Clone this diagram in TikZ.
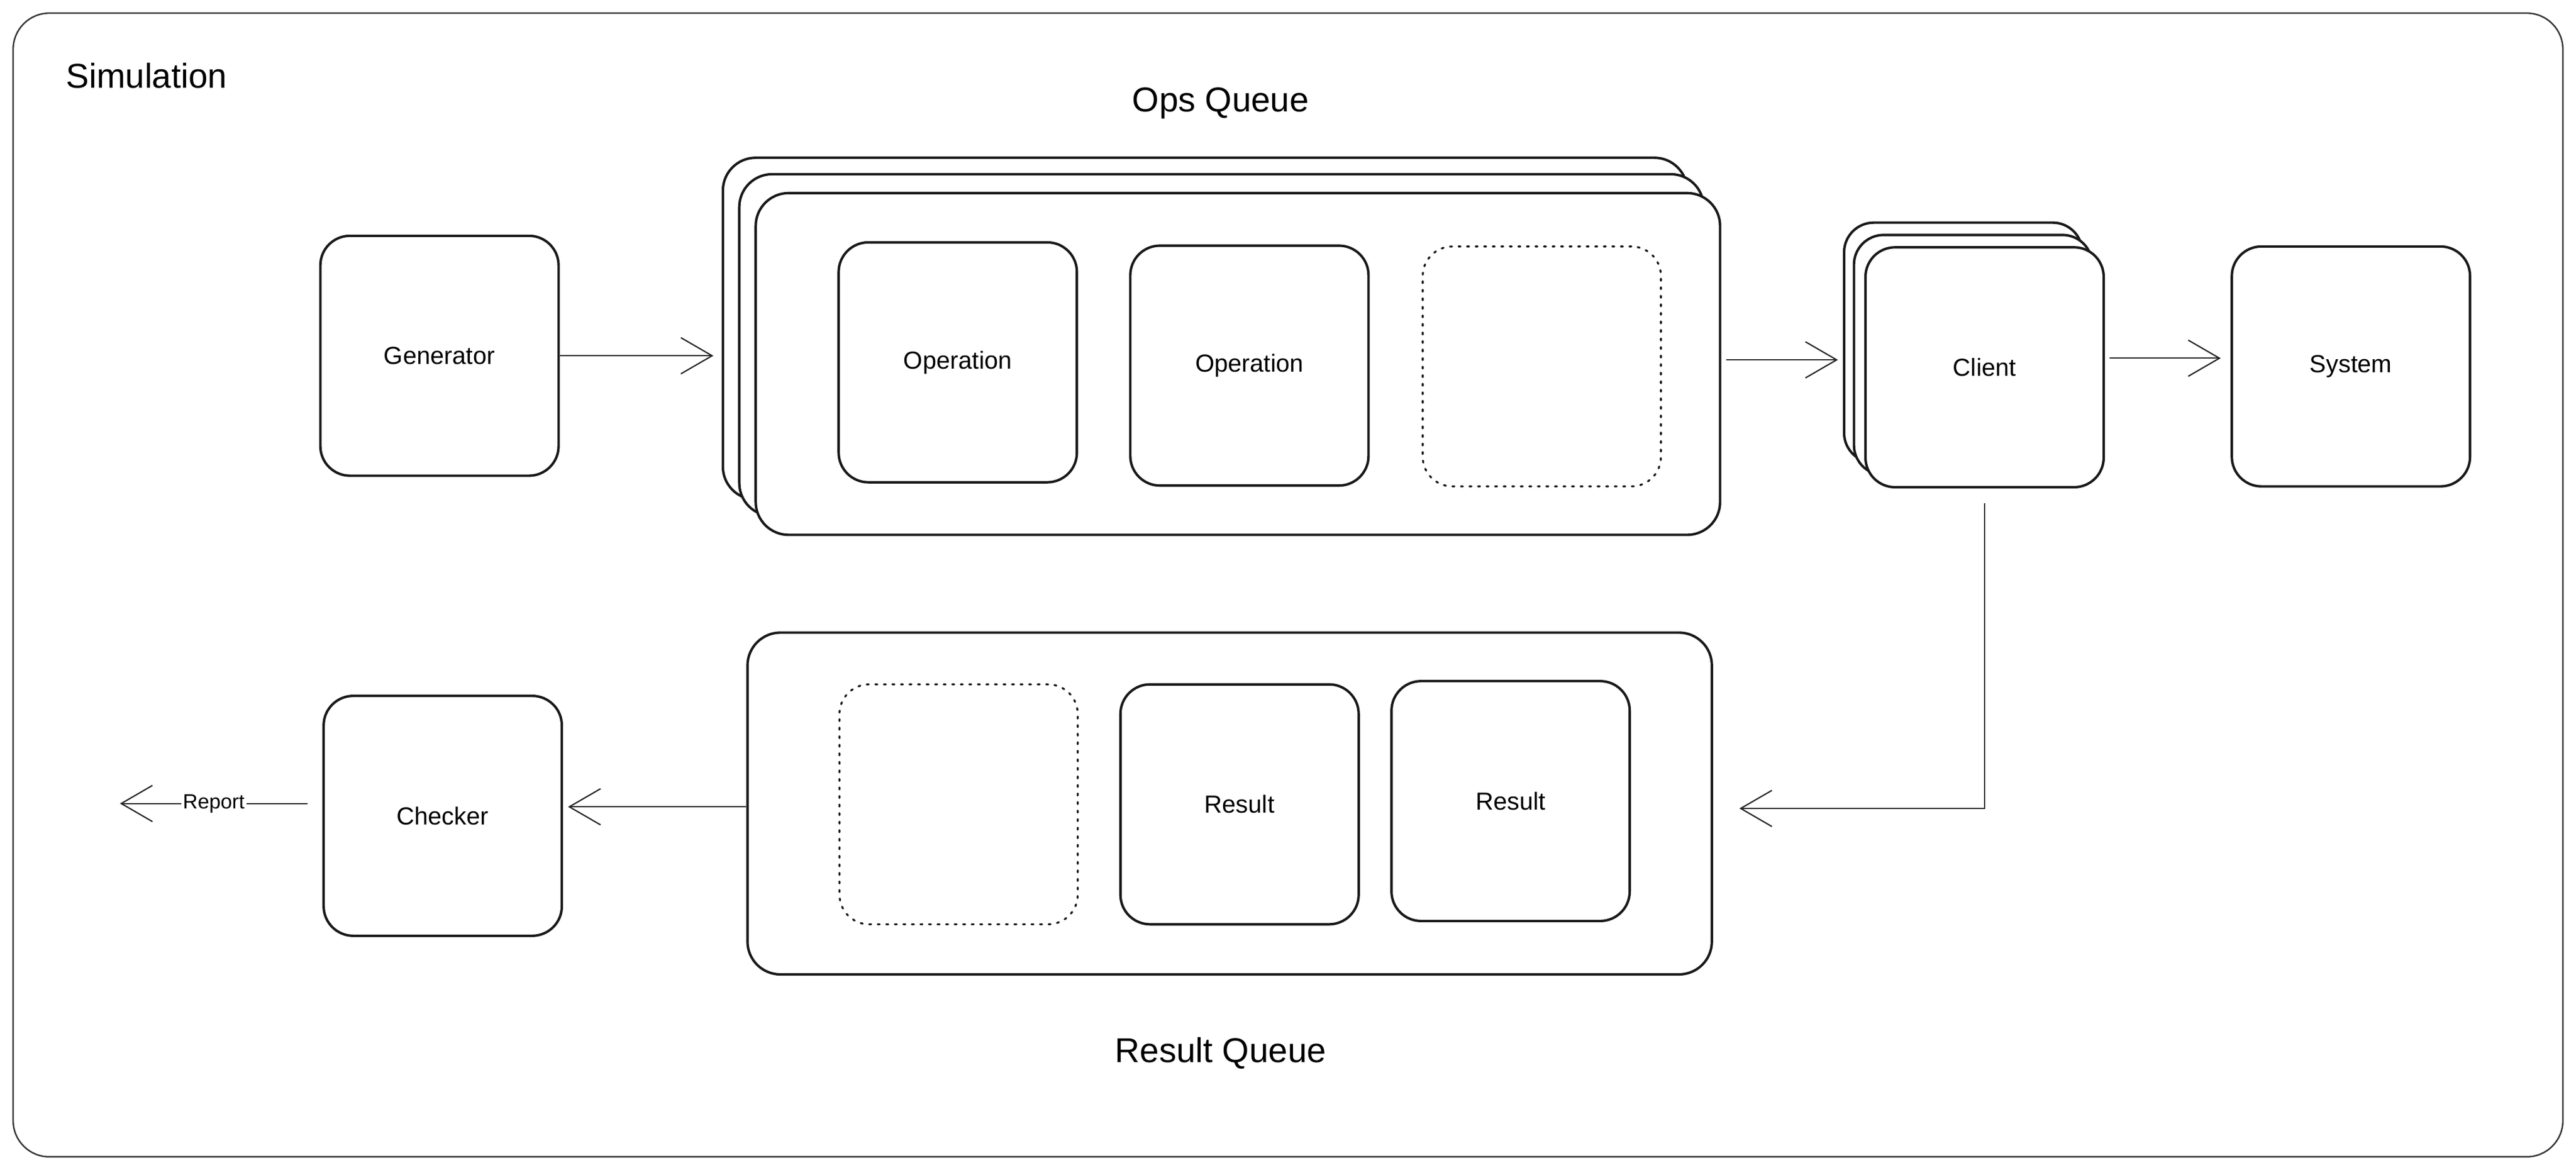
\documentclass[tikz,border=0pt]{standalone}
\usepackage{fontspec}
\setmainfont{Liberation Sans}
\usetikzlibrary{arrows.meta}

\begin{document}
\begin{tikzpicture}[x=1pt,y=-1pt,
		box/.style={draw=black!90, line width=1.5pt, rounded corners=18pt, fill=white, minimum width=145pt, minimum height=146pt, inner sep=0pt, font=\fontsize{15}{18}\selectfont},
		slot/.style={box, line width=1.2pt, dash pattern=on 1.2pt off 4pt, line cap=round},
		queue/.style={box, minimum width=587pt, minimum height=208pt, rounded corners=20pt},
		title/.style={font=\fontsize{21}{25}\selectfont, inner sep=0pt},
		flow/.style={draw=black!85, line width=0.8pt, -{Straight Barb[length=19pt, width=22pt, line width=0.8pt]}}]
		\useasboundingbox (0,0) rectangle (1568,712);
		\draw[black!80, line width=0.9pt, rounded corners=22pt] (8,8) rectangle (1560,704);
		\node[title, anchor=west] (sim) at (40,46) {Simulation};
		
		% ops queue
		\node[title] (opstitle) at (743,63) {Ops Queue};
		\node[queue] (opsback) at (733.5,200) {};
		\node[queue] (opsmid) at (743.5,210) {};
		\node[queue] (ops) at (753.5,221.5) {};
		\node[box] (op1) at (583,220.5) {Operation};
		\node[box] (op2) at (760.5,222.5) {Operation};
		\node[slot] (opfree) at (938.5,223) {};
		
		% result queue
		\node[queue] (res) at (748.5,489) {};
		\node[slot] (resfree) at (583.5,489.5) {};
		\node[box] (res1) at (754.5,489.5) {Result};
		\node[box] (res2) at (919.5,487.5) {Result};
		\node[title] (restitle) at (743,641) {Result Queue};
		
		\node[box] (gen) at (267.5,216.5) {Generator};
		\node[box] (clientback) at (1195,208.5) {};
		\node[box] (clientmid) at (1201,216) {};
		\node[box] (client) at (1208,223.5) {Client};
		\node[box] (sys) at (1431,223) {System};
		\node[box] (check) at (269.5,496.5) {Checker};
		\coordinate (out) at (73,489);
		
		\draw[flow, shorten >=5pt] (gen.east) -- (gen.east -| opsback.west);
		\draw[flow, shorten <=3pt, shorten >=3pt] (ops.east |- 0,219) -- (clientback.west |- 0,219);
		\draw[flow, shorten <=3pt, shorten >=6pt] (client.east |- 0,218) -- (sys.west |- 0,218);
		\draw[flow] ([yshift=-9pt]client.south) |- ([xshift=16pt,yshift=-3pt]res.east);
		\draw[flow, shorten >=3pt] (res.west |- 0,491) -- (check.east |- 0,491);
		\draw[flow] ([xshift=-9pt]check.west |- out) -- node[fill=white, inner sep=1pt, font=\fontsize{12.5}{15}\selectfont] {Report} (out);
	\end{tikzpicture}
\end{document}
